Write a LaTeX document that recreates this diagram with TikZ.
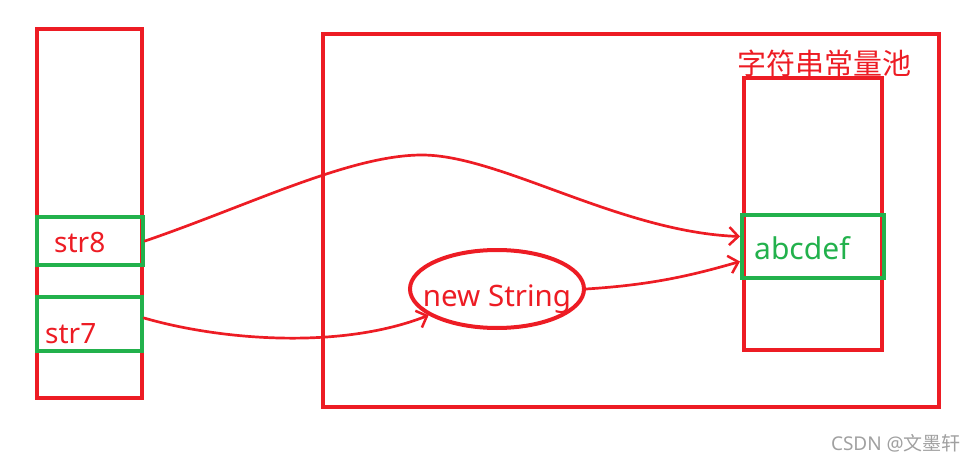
\documentclass[tikz,border=0pt]{standalone}
\usepackage{fontspec}
\setmainfont{Noto Sans}
\newfontfamily\cjk{Noto Sans CJK SC}
\usetikzlibrary{arrows.meta,shapes.geometric}
\definecolor{myred}{HTML}{ED1C24}
\definecolor{mygreen}{HTML}{22B14C}
\definecolor{wmgray}{HTML}{A0A0A0}
\begin{document}
\begin{tikzpicture}[x=1pt,y=-1pt,
  redbox/.style={draw=myred, line width=4pt},
  greenbox/.style={draw=mygreen, line width=4pt, inner sep=0pt},
  link/.style={draw=myred, line width=2.7pt, line cap=round, -{Straight Barb[length=9pt,width=18pt,line width=2.5pt]}},
  lbl/.style={text=myred, font=\fontsize{28}{32}\selectfont, inner sep=0pt},
  glbl/.style={text=mygreen, font=\fontsize{30}{34}\selectfont, inner sep=0pt}]
\useasboundingbox (0,0) rectangle (977,465);
% frames
\draw[redbox] (37,29) rectangle (142,398);
\draw[redbox] (323,34) rectangle (939,407);
\draw[redbox] (744,78) rectangle (882,350);
% green slots
\node[greenbox, minimum width=106pt, minimum height=48pt] (str8) at (90,241) {};
\node[greenbox, minimum width=105pt, minimum height=54pt] (str7) at (89.5,324) {};
\node[greenbox, minimum width=142pt, minimum height=63pt] (abc) at (813,246.5) {};
% ellipse
\node[ellipse, draw=myred, line width=4pt, minimum width=174pt, minimum height=78pt, inner sep=0pt] (ell) at (497,289) {};
% texts
\node[lbl, anchor=west] (t8) at (54,243) {str8};
\node[lbl, anchor=west] (t7) at (45,334) {str7};
\node[glbl, anchor=west] (tabc) at (754,248) {abcdef};
\node[lbl, font=\fontsize{29.5}{33}\selectfont] (tnew) at (497,299) {new String};
\node[text=myred, font=\cjk\fontsize{29}{33}\selectfont, inner sep=0pt] (title) at (824,63) {字符串常量池};
\node[text=wmgray, font=\fontsize{19}{22}\selectfont, inner sep=0pt, anchor=east] (wm) at (961,443) {CSDN @{\cjk 文墨轩}};
% connectors
\draw[link] (str8.east) .. controls (250,205) and (350,155) .. (422,155)
  .. controls (500,155) and (620,232) .. ([yshift=10pt]abc.west);
\draw[link] ([yshift=6pt]str7.east) .. controls (220,340) and (340,350) .. (ell.201);
\draw[link] (ell.east) .. controls (650,285) and (690,276) .. ([yshift=-15pt]abc.west);
\end{tikzpicture}
\end{document}
